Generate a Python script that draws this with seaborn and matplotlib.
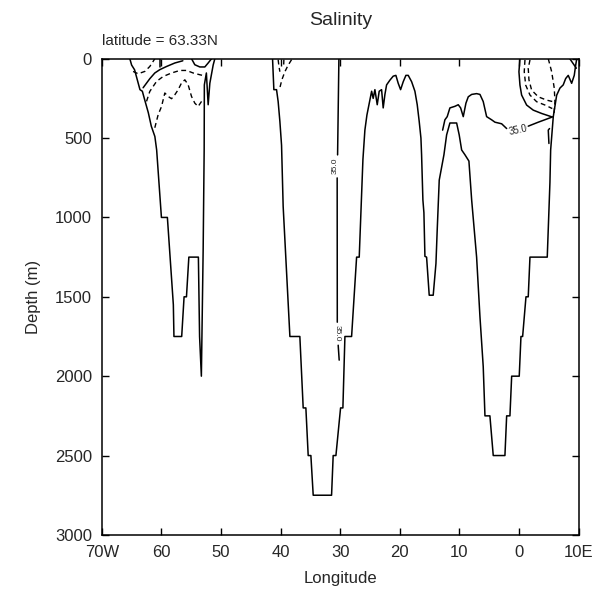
import numpy as np
import pandas as pd
import seaborn as sns
import matplotlib.pyplot as plt

# bottom profile / outlines, longitude (negative = west) and depth (m)
baffin_lon = [-65.3, -65.0, -64.5, -63.6, -63.2, -62.8, -62.2, -61.7, -61.1, -60.8, -60.0, -59.0,
              -58.0, -57.9, -56.6, -56.2, -55.8, -55.4, -53.8, -53.6, -53.3, -53.0, -52.83, -52.8,
              -52.46, -52.16, -51.88, -51.32, -51.04]
baffin_dep = [0, 40, 70, 195, 205, 260, 340, 425, 490, 575, 1000, 1000,
              1550, 1750, 1750, 1500, 1500, 1250, 1250, 1750, 2000, 1205, 575, 165,
              90, 290, 155, 40, 0]

irminger_lon = [-41.36, -41.14, -40.69, -40.42, -40.13, -39.85, -39.58, -38.45, -36.78, -36.22, -35.77,
                -35.38, -34.93, -34.54, -31.46, -31.19, -30.73, -29.95, -29.56, -29.22, -28.1, -27.26,
                -26.82, -26.2, -25.87, -25.53, -25.03, -24.74, -24.48, -24.19, -23.8, -23.47, -23.07,
                -22.8, -22.51, -22.23, -21.67, -21.12, -20.67, -20.28, -19.88, -19.44, -18.99, -18.6,
                -18.03, -17.48, -17.09, -16.76, -16.47, -16.36, -16.14, -15.97, -15.8, -15.52, -15.08,
                -14.41, -13.95, -13.74, -13.4, -12.61, -12.16, -11.61, -10.48, -10.05, -9.64, -9.09,
                -8.42, -7.96, -7.13, -6.57, -6.02, -5.73, -4.9, -4.34, -2.38, -2.09, -1.54, -1.25,
                0.02, 0.31, 0.59, 1.15, 1.53, 1.82, 4.72, 5.17, 5.29, 5.73, 6.3, 6.85, 7.4, 7.81,
                8.24, 8.81, 9.25, 9.49, 9.65]
irminger_dep = [0, 195, 195, 270, 395, 545, 930, 1750, 1750, 2200, 2200,
                2500, 2500, 2750, 2750, 2500, 2500, 2200, 2200, 1750, 1750, 1250,
                1250, 635, 450, 355, 260, 205, 250, 195, 290, 205, 195,
                310, 225, 165, 135, 110, 105, 155, 195, 145, 105, 105,
                145, 205, 290, 395, 500, 605, 890, 970, 1245, 1250, 1490,
                1490, 1290, 1080, 765, 605, 480, 405, 405, 480, 575, 605,
                645, 890, 1250, 1625, 1940, 2250, 2250, 2500, 2500, 2250, 2250, 2000,
                2000, 1750, 1750, 1500, 1500, 1250, 1250, 780, 575, 365, 230, 185, 165, 125,
                105, 155, 105, 40, 5]

corner_lon = [8.5, 9.6]
corner_dep = [0, 60]

arc55_lon = [-54.95, -54.4, -53.56, -52.72, -52.16, -51.59]
arc55_dep = [0, 38, 52, 52, 27, 0]

# solid contours (35.0)
top_solid_lon = [-63.07, -61.95, -61.11, -60.27, -59.14, -57.75, -56.41]
top_solid_dep = [183, 126, 90, 69, 49, 27, 13]
stub_lon = [-60.27, -60.27]
stub_dep = [0, 50]

c35_west_lon = [-12.83, -12.45, -12.06, -11.61, -10.77, -10.21, -9.81, -9.37, -8.92, -8.53, -7.96,
                -7.13, -6.57, -6.02, -5.45, -4.61, -4.05, -2.93, -2.09]
c35_west_dep = [450, 385, 365, 310, 300, 290, 310, 365, 280, 240, 225,
                220, 225, 270, 365, 385, 400, 410, 440]
c35_east_lon = [1.53, 3.21, 5.73]
c35_east_dep = [425, 400, 365]

norway_solid_lon = [0.14, -0.03, 0.14, 0.42, 1.26, 2.37, 3.78, 5.46]
norway_solid_dep = [0, 82, 166, 229, 292, 324, 345, 366]

vert_a_lon, vert_a_dep = [-30.23, -30.45], [0, 606]
vert_b_lon, vert_b_dep = [-30.52, -30.5], [751, 1660]
vert_c_lon, vert_c_dep = [-30.35, -30.18], [1805, 1899]

hook_lon, hook_dep = [5.0, 4.89, 5.1], [534, 450, 440]

# dashed contours
dash_lines = {
    "topleft_arc": ([-64.75, -63.91, -62.78, -61.95, -61.39, -61.11], [80, 95, 80, 49, 17, 0]),
    "long_arc": ([-62.5, -61.95, -60.82, -59.71, -58.3, -56.91, -55.79, -54.68, -53.56, -52.88],
                 [269, 206, 143, 112, 90, 74, 74, 90, 101, 107]),
    "zigzag": ([-61.11, -60.55, -59.98, -59.43, -58.87, -58.3, -57.75, -57.2, -56.63, -56.07, -55.52,
                -54.95, -54.4, -53.84, -53.27],
               [435, 353, 301, 216, 238, 252, 227, 196, 153, 133, 164, 238, 280, 301, 269]),
    "green_e1": ([-38.17, -38.79, -39.29, -39.8, -40.13], [6, 44, 82, 133, 183]),
    "green_e2": ([-40.42, -40.3, -40.13], [6, 44, 82]),
    "green_e3": ([-39.46, -39.5], [6, 50]),
    "norway_d1": ([0.98, 0.86, 1.1, 1.82, 2.94, 4.34, 5.56], [8, 82, 166, 229, 271, 292, 314]),
    "norway_d2": ([1.82, 1.53, 1.65, 2.1, 3.21, 4.62, 5.73], [8, 61, 133, 198, 240, 261, 271]),
    "norway_d3": ([4.89, 5.46, 5.9, 6.01, 5.85], [0, 82, 187, 271, 353]),
}

xtick_vals = [-70, -60, -50, -40, -30, -20, -10, 0, 10]
xtick_labels = ["70W", "60", "50", "40", "30", "20", "10", "0", "10E"]
ytick_vals = [0, 500, 1000, 1500, 2000, 2500, 3000]

sns.set_theme(style="ticks")
plt.rcParams["font.family"] = ["Liberation Sans", "DejaVu Sans"]

fig = plt.figure(figsize=(6.06, 5.99), dpi=100)
ax = fig.add_axes([0.168, 0.107, 0.787, 0.795])

solid = [(baffin_lon, baffin_dep), (irminger_lon, irminger_dep), (corner_lon, corner_dep),
         (arc55_lon, arc55_dep), (top_solid_lon, top_solid_dep), (stub_lon, stub_dep),
         (c35_west_lon, c35_west_dep), (c35_east_lon, c35_east_dep),
         (norway_solid_lon, norway_solid_dep), (vert_a_lon, vert_a_dep),
         (vert_b_lon, vert_b_dep), (vert_c_lon, vert_c_dep), (hook_lon, hook_dep)]
for lon, dep in solid:
    sns.lineplot(x=lon, y=dep, sort=False, estimator=None, color="black", lw=1.1, ax=ax)

for name, (lon, dep) in dash_lines.items():
    sns.lineplot(x=lon, y=dep, sort=False, estimator=None, color="black", lw=1.0,
                 linestyle=(0, (3.5, 2.5)), ax=ax)

# contour labels
ax.text(-30.9, 675, "35.0", rotation=90, fontsize=6, ha="center", va="center")
ax.text(-30.5, 1732, "35.0", rotation=270, fontsize=6, ha="center", va="center")
ax.text(-0.2, 452, "35.0", rotation=12, fontsize=7, ha="center", va="center")

ax.set_xlim(-70, 10)
ax.set_ylim(3000, 0)
ax.set_xticks(xtick_vals)
ax.set_xticklabels(xtick_labels)
ax.set_yticks(ytick_vals)
ax.tick_params(direction="in", top=True, right=True, length=5, width=1, labelsize=12,
               pad=7, color="black")
for sp in ax.spines.values():
    sp.set_linewidth(1.1)
    sp.set_color("black")

ax.set_xlabel("Longitude", fontsize=12, labelpad=8)
ax.set_ylabel("Depth (m)", fontsize=12, labelpad=10)
ax.set_title("Salinity", fontsize=14, pad=24)
ax.text(0.0, 1.022, "latitude = 63.33N", transform=ax.transAxes, fontsize=11,
        ha="left", va="bottom")

fig.savefig("out.png", dpi=100)
